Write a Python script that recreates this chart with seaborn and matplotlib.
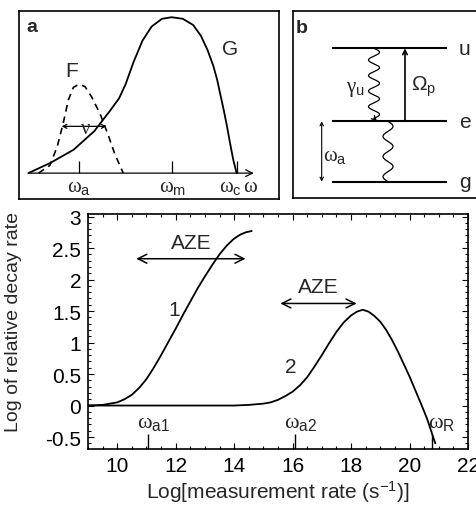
import numpy as np
import seaborn as sns
import matplotlib.pyplot as plt
import matplotlib.ticker as mticker

# main panel: log of relative decay rate vs log of measurement rate
curve1_x = [9.0, 9.5, 9.75, 10.0, 10.25, 10.5, 10.75, 11.0, 11.25, 11.5, 11.75, 12.0,
            12.25, 12.5, 12.75, 13.0, 13.25, 13.5, 13.75, 14.0, 14.2, 14.4, 14.6]
curve1_y = [0.0, 0.01, 0.03, 0.05, 0.1, 0.17, 0.28, 0.42, 0.6, 0.8, 1.01, 1.22,
            1.44, 1.65, 1.86, 2.05, 2.23, 2.4, 2.54, 2.65, 2.71, 2.75, 2.77]
curve2_x = [9.0, 14.0, 14.5, 14.75, 15.0, 15.25, 15.5, 15.75, 16.0, 16.25, 16.5, 16.75,
            17.0, 17.25, 17.5, 17.75, 18.0, 18.2, 18.4, 18.6, 18.8, 19.0, 19.2, 19.4,
            19.6, 19.8, 20.0, 20.2, 20.4, 20.6, 20.88]
curve2_y = [0.0, 0.0, 0.01, 0.02, 0.03, 0.05, 0.09, 0.15, 0.22, 0.32, 0.45, 0.62,
            0.8, 0.99, 1.17, 1.32, 1.43, 1.49, 1.52, 1.49, 1.42, 1.33, 1.2, 1.04,
            0.86, 0.66, 0.46, 0.24, 0.02, -0.21, -0.6]
x_ticks = [10, 12, 14, 16, 18, 20, 22]
y_ticks = [-0.5, 0, 0.5, 1, 1.5, 2, 2.5, 3]
y_tick_labels = ["-0.5", "0", "0.5", "1", "1.5", "2", "2.5", "3"]
omega_marks = [11.05, 16.07, 20.76]
omega_names = ["a1", "a2", "R"]
aze_spans = [(10.65, 14.39, 2.33), (15.58, 18.19, 1.62)]

# panel a: spectra G and F
g_x = [0.36, 1.2, 2.1, 2.9, 3.5, 3.85, 4.1, 4.4, 4.75, 5.1, 5.5, 5.87, 6.3, 6.7,
       7.0, 7.25, 7.47, 7.62, 7.75, 7.88, 8.0, 8.12, 8.24, 8.37]
g_y = [0.0, 0.065, 0.15, 0.27, 0.4, 0.48, 0.57, 0.71, 0.85, 0.94, 0.99, 1.0, 0.99,
       0.95, 0.88, 0.79, 0.69, 0.6, 0.5, 0.4, 0.3, 0.19, 0.086, 0.0]
f_x = [0.75, 1.19, 1.47, 1.7, 1.9, 2.09, 2.31, 2.54, 2.79, 3.12, 3.44, 3.69, 4.01]
f_y = [0.0, 0.05, 0.17, 0.32, 0.47, 0.55, 0.57, 0.555, 0.49, 0.38, 0.24, 0.12, 0.0]
a_ticks = [2.31, 5.9, 8.37]

# panel b: level scheme (y in panel units, top = 12)
levels_y = [49.3, 122.3, 182.7]
level_names = ["u", "e", "g"]

sns.set_theme(style="ticks")
plt.rcParams['font.family'] = ['Liberation Sans', 'DejaVu Sans']
plt.rcParams['mathtext.fontset'] = 'custom'
plt.rcParams['mathtext.rm'] = 'Liberation Serif'
plt.rcParams['mathtext.sf'] = 'Liberation Sans'
plt.rcParams['mathtext.it'] = 'Liberation Serif:italic'
plt.rcParams['axes.unicode_minus'] = False

fig = plt.figure(figsize=(4.76, 5.06), dpi=100)

# ---- main axes
ax = fig.add_axes([88 / 476, 56 / 506, 380 / 476, 235 / 506])
sns.lineplot(x=curve1_x, y=curve1_y, ax=ax, color="black", lw=1.3, sort=False, estimator=None)
sns.lineplot(x=curve2_x, y=curve2_y, ax=ax, color="black", lw=1.3, sort=False, estimator=None)
ax.set_xlim(9, 22)
ax.set_ylim(-0.69, 3.04)
ax.set_xticks(x_ticks)
ax.set_yticks(y_ticks)
ax.set_yticklabels(y_tick_labels)
ax.xaxis.set_minor_locator(mticker.MultipleLocator(0.5))
ax.yaxis.set_minor_locator(mticker.MultipleLocator(0.1))
ax.tick_params(which="both", direction="in", top=True, right=True, colors="black",
               labelsize=15, width=0.8)
ax.tick_params(which="major", length=4, pad=5)
ax.tick_params(which="minor", length=2)
for s in ax.spines.values():
    s.set_color("black")
    s.set_linewidth(1.2)
ax.set_xlabel(r"Log[measurement rate (s$^{\mathsf{-1}}$)]", fontsize=15, labelpad=3)
ax.set_ylabel("Log of relative decay rate", fontsize=14)
ax.yaxis.set_label_coords(-0.174, 0.545)

for x0, x1, yy in aze_spans:
    ax.annotate("", xy=(x0, yy), xytext=(x1, yy),
                arrowprops=dict(arrowstyle="<->", lw=1.1, color="black",
                                mutation_scale=16, shrinkA=0, shrinkB=0))
ax.text(12.52, 2.58, "AZE", fontsize=15, ha="center", va="center")
ax.text(16.88, 1.89, "AZE", fontsize=15, ha="center", va="center")
ax.text(11.95, 1.52, "1", fontsize=15, ha="center", va="center")
ax.text(15.92, 0.62, "2", fontsize=15, ha="center", va="center")
ax.vlines(omega_marks, -0.69, -0.45, color="black", lw=1.0)
for xm, nm, dx in zip(omega_marks, omega_names, [0.2, 0.2, 0.35]):
    ax.text(xm + dx, -0.25, r"$\mathrm{\omega}_\mathsf{" + nm + "}$", fontsize=16,
            ha="center", va="center")

# ---- panel a
axa = fig.add_axes([19 / 476, 306 / 506, 260 / 476, 188 / 506])
sns.lineplot(x=g_x, y=g_y, ax=axa, color="black", lw=1.3, sort=False, estimator=None)
sns.lineplot(x=f_x, y=f_y, ax=axa, color="black", lw=1.2, sort=False, estimator=None,
             linestyle=(0, (4, 3)))
axa.set_xlim(0, 10)
axa.set_ylim(-0.166, 1.04)
axa.set_xticks([])
axa.set_yticks([])
for s in axa.spines.values():
    s.set_color("black")
    s.set_linewidth(1.2)
axa.annotate("", xy=(9.03, 0), xytext=(0.36, 0),
             arrowprops=dict(arrowstyle="->", lw=0.9, color="black", shrinkA=0, shrinkB=0))
axa.vlines(a_ticks, 0, 0.075, color="black", lw=0.9)
axa.annotate("", xy=(1.64, 0.3), xytext=(3.37, 0.3),
             arrowprops=dict(arrowstyle="<->", lw=0.9, color="black",
                             mutation_scale=7, shrinkA=0, shrinkB=0))
axa.text(2.54, 0.29, r"$\mathrm{\nu}$", fontsize=15, ha="center", va="center")
axa.text(2.03, 0.66, "F", fontsize=15, ha="center", va="center")
axa.text(8.1, 0.8, "G", fontsize=15, ha="center", va="center")
axa.text(0.49, 0.94, "a", fontsize=14, fontweight="bold", ha="center", va="center")
axa.text(2.31, -0.086, r"$\mathrm{\omega}_\mathsf{a}$", fontsize=15, ha="center", va="center")
axa.text(5.9, -0.086, r"$\mathrm{\omega}_\mathsf{m}$", fontsize=15, ha="center", va="center")
axa.text(8.44, -0.086, r"$\mathrm{\omega}_\mathsf{c}\,\mathrm{\omega}$", fontsize=15,
         ha="center", va="center")

# ---- panel b
axb = fig.add_axes([293 / 476, 307 / 506, 186 / 476, 187 / 506])
axb.set_xlim(293, 479)
axb.set_ylim(199, 12)
axb.set_xticks([])
axb.set_yticks([])
for s in axb.spines.values():
    s.set_color("black")
    s.set_linewidth(1.2)
axb.hlines(levels_y, 331.7, 446.7, color="black", lw=1.5)
for yy, nm in zip(levels_y, level_names):
    axb.text(465, yy, nm, fontsize=15, ha="center", va="center")

t = np.linspace(0, 1, 300)
wy = levels_y[0] + t * (levels_y[1] - 3 - levels_y[0])
wx = 374 + 5.5 * np.sin(2 * np.pi * 4.5 * t)
axb.plot(wx, wy, color="black", lw=0.9)
axb.annotate("", xy=(377, levels_y[1]), xytext=(wx[-1], wy[-1]),
             arrowprops=dict(arrowstyle="->", lw=0.9, color="black",
                             mutation_scale=8, shrinkA=0, shrinkB=0))
wy2 = levels_y[1] + t * (levels_y[2] - levels_y[1])
wx2 = 388 + 5 * np.sin(2 * np.pi * 3 * t)
axb.plot(wx2, wy2, color="black", lw=0.9)
axb.annotate("", xy=(405, levels_y[0]), xytext=(405, levels_y[1]),
             arrowprops=dict(arrowstyle="->", lw=1.2, color="black",
                             mutation_scale=8, shrinkA=0, shrinkB=0))
axb.annotate("", xy=(321.7, levels_y[1]), xytext=(321.7, levels_y[2]),
             arrowprops=dict(arrowstyle="<->", lw=0.8, color="black",
                             mutation_scale=6, shrinkA=0, shrinkB=0))
axb.text(355, 90, r"$\mathrm{\gamma}_\mathsf{u}$", fontsize=15, ha="center", va="center")
axb.text(424, 87, r"$\mathsf{\Omega}_\mathsf{p}$", fontsize=15, ha="center", va="center")
axb.text(335, 157, r"$\mathrm{\omega}_\mathsf{a}$", fontsize=15, ha="center", va="center")
axb.text(301.7, 28.3, "b", fontsize=14, fontweight="bold", ha="center", va="center")

fig.savefig("out.png", dpi=100)
